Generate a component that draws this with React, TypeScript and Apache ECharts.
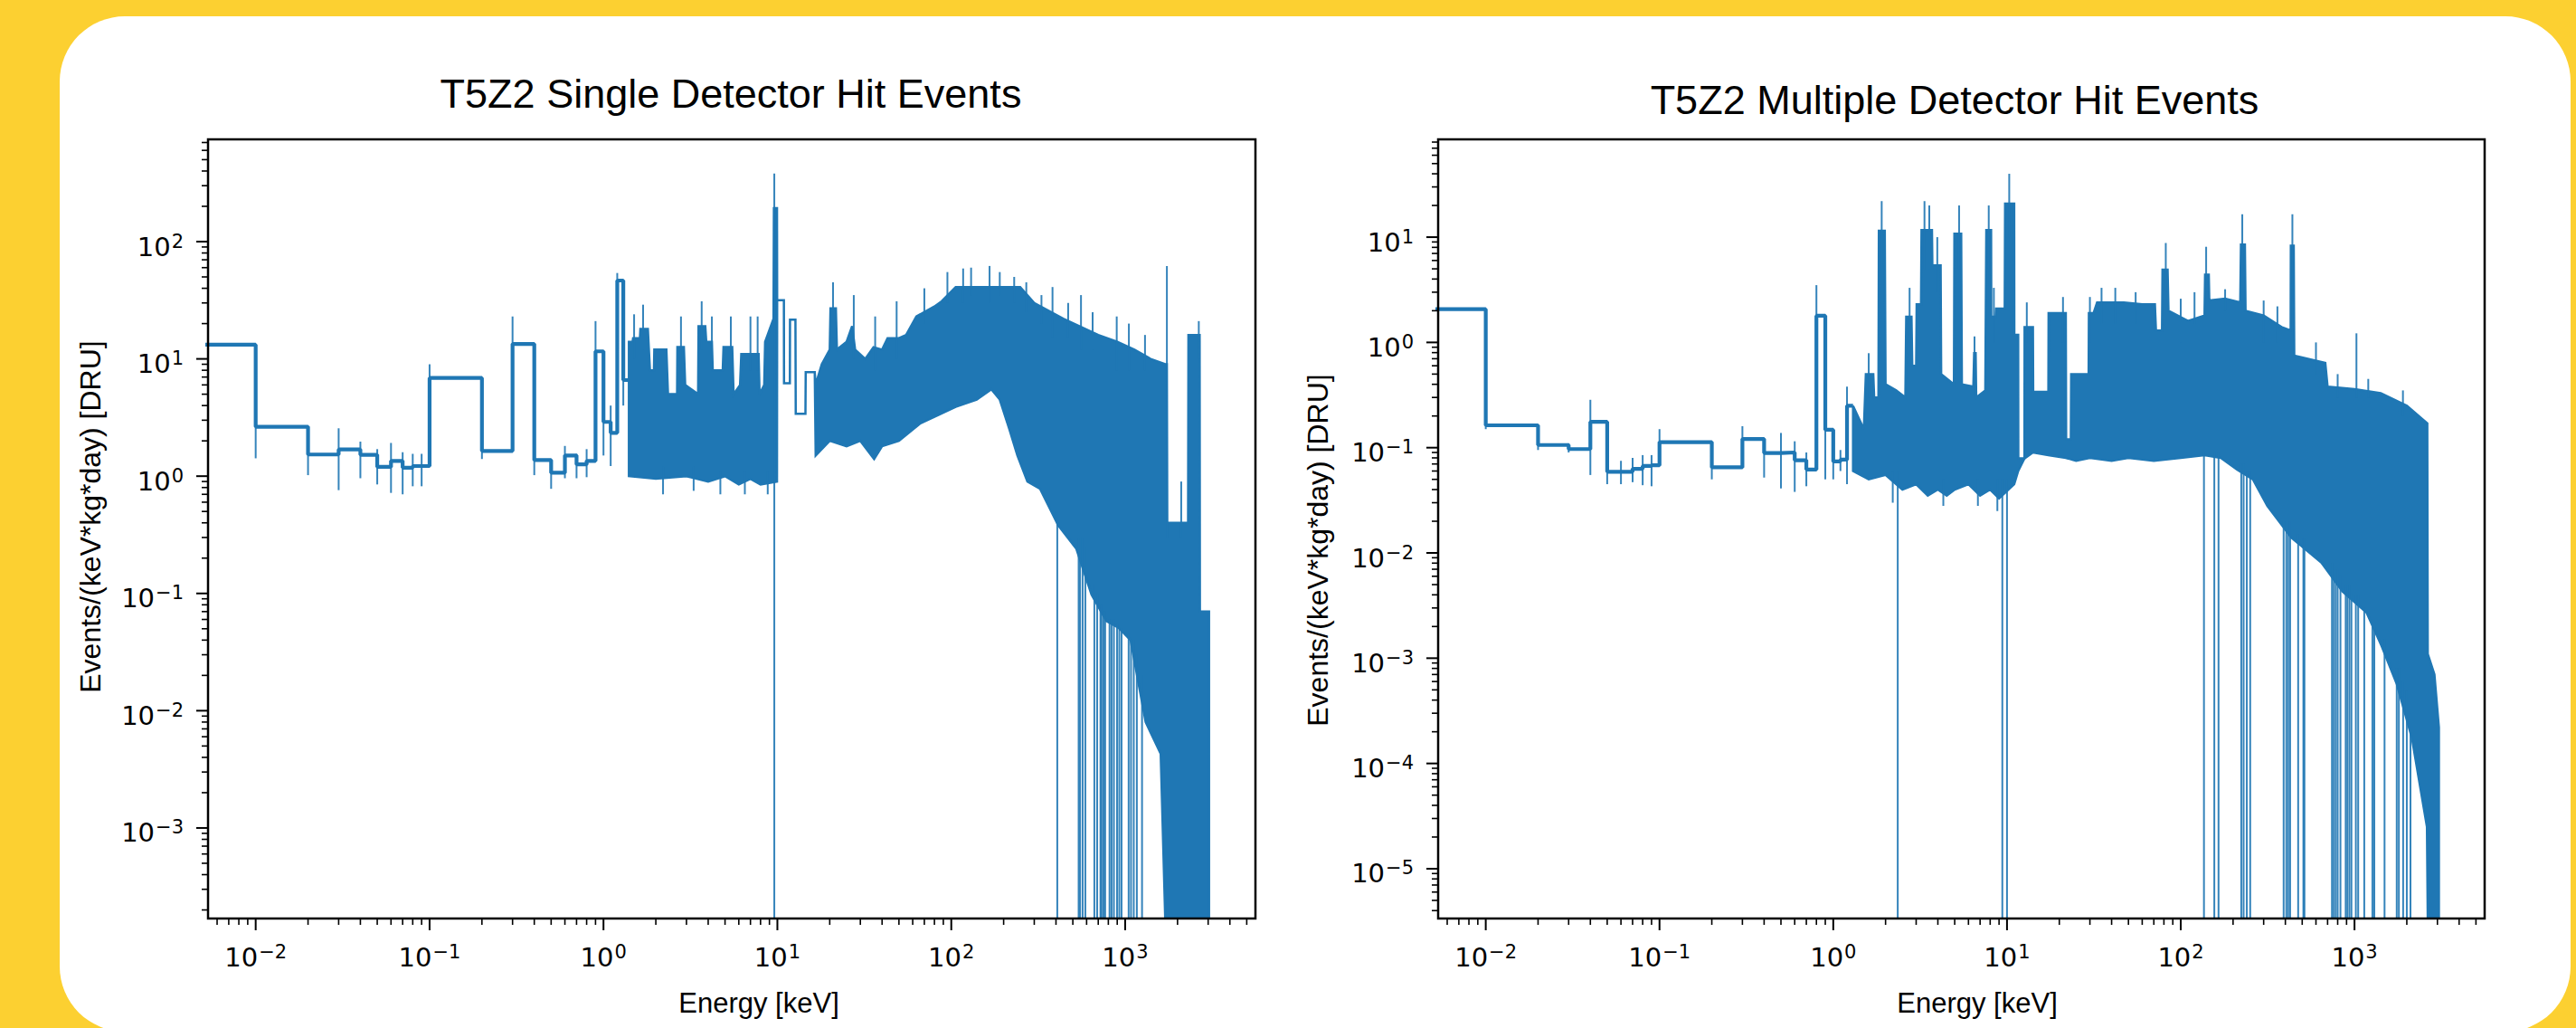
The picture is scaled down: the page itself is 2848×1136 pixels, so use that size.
import React, { useEffect, useRef } from 'react';
import * as echarts from 'echarts';

const BLUE = '#1f77b4';
const BOTTOM = 1e-9; // "falls to zero" (drawn down to the axis floor)

// axis ranges
const X_MIN = Math.pow(10, -2.274);
const X_MAX = Math.pow(10, 3.749);
const Y1_MIN = Math.pow(10, -3.772);
const Y1_MAX = Math.pow(10, 2.872);
const Y2_MIN = Math.pow(10, -5.473);
const Y2_MAX = Math.pow(10, 1.929);

// tick values
const xDecades = [1e-3, 1e-2, 1e-1, 1, 10, 100, 1000];
const y1Decades = [1e-4, 1e-3, 1e-2, 1e-1, 1, 10, 100];
const y2Decades = [1e-6, 1e-5, 1e-4, 1e-3, 1e-2, 1e-1, 1, 10];
const minorMultipliers = [2, 3, 4, 5, 6, 7, 8, 9];

// ---------- Single detector hit events ----------
const singleStepEdges = [0.001, 0.01, 0.02, 0.03, 0.04, 0.05, 0.06, 0.07, 0.08, 0.09, 0.1, 0.2, 0.3, 0.4, 0.5, 0.6, 0.7, 0.8, 0.9, 1.0, 1.1, 1.2, 1.3, 1.4];
const singleStepValues = [13.2, 2.64, 1.53, 1.69, 1.52, 1.2, 1.35, 1.18, 1.22, 1.22, 6.88, 1.64, 13.4, 1.37, 1.07, 1.5, 1.26, 1.35, 11.6, 2.9, 2.34, 46.6, 6.6];
const singleErrors = [
  [0.01, 1.42, 3.9], [0.02, 1.02, 2.1], [0.03, 0.76, 2.56], [0.04, 0.96, 1.97], [0.05, 0.85, 1.7],
  [0.06, 0.72, 1.92], [0.07, 0.7, 1.6], [0.08, 0.82, 1.55], [0.09, 0.82, 1.55], [0.1, 4.5, 9],
  [0.2, 1.4, 1.9], [0.3, 8, 23], [0.4, 1.02, 1.8], [0.5, 0.78, 1.4], [0.6, 0.96, 1.81],
  [0.7, 0.96, 1.55], [0.8, 0.98, 1.7], [0.9, 6, 21], [1.0, 1.5, 3.8], [1.1, 1.22, 4.0],
  [1.2, 38, 54], [1.3, 4, 9],
];
const singleBandUpper = [
  [1.4, 14], [1.47, 14], [1.48, 15], [1.62, 15], [1.63, 18], [1.8, 18], [1.85, 8], [1.95, 8], [1.96, 12], [2.3, 12],
  [2.35, 5], [2.65, 5], [2.66, 12.6], [2.9, 12.6], [2.95, 6], [3.5, 5], [3.52, 19], [3.85, 19], [3.9, 14], [4.2, 14],
  [4.25, 8], [4.85, 8], [4.9, 12.6], [5.5, 12.6], [5.6, 5], [6.1, 6], [6.2, 11], [7.8, 11], [7.9, 5], [8.4, 6],
  [8.5, 14], [9.5, 22], [9.55, 193], [9.95, 193], [9.97, 31.7], [10.9, 31.7], [10.92, 6.2], [11.8, 6.2], [11.82, 21.6], [12.7, 21.6],
  [12.75, 3.4], [14.5, 3.4], [14.55, 7.7], [16.4, 7.7], [16.6, 6], [18, 9], [20, 12], [20.2, 27], [21.7, 27], [22, 12],
  [25, 14], [26.9, 19], [28, 12], [32, 10], [35.7, 12.6], [40, 12], [43, 15], [49.7, 15], [55, 16], [63, 23],
  [80, 28], [88, 31], [106, 41], [150, 41], [200, 41], [249, 41], [300, 30], [440, 22], [700, 16], [900, 14],
  [1130, 12], [1400, 10], [1700, 9], [1735, 9], [1745, 0.4], [2300, 0.4], [2310, 16], [2680, 16], [2690, 0.07], [3035, 0.07],
];
const singleBandLower = [
  [1.4, 1.0], [2, 0.95], [3, 1.0], [4, 0.9], [5, 1.0], [6, 0.85], [7, 0.95], [8, 0.85], [9.95, 0.9], [9.97, 31.7],
  [10.9, 31.7], [10.92, 6.2], [11.8, 6.2], [11.82, 21.6], [12.7, 21.6], [12.75, 3.4], [14.5, 3.4], [14.55, 7.7], [16.4, 7.7], [16.6, 1.5],
  [20, 2.0], [25, 1.8], [30, 2.0], [36, 1.4], [40, 1.8], [50, 2.0], [58, 2.4], [66, 2.8], [80, 3.2], [106, 3.9],
  [140, 4.5], [170, 5.5], [190, 4.5], [216, 2.5], [240, 1.5], [274, 0.9], [324, 0.78], [412, 0.38], [524, 0.24], [640, 0.098],
  [780, 0.058], [915, 0.051], [1074, 0.04], [1311, 0.008], [1600, 0.0043], [1700, BOTTOM], [3035, BOTTOM],
];
const singleSpikes = [
  [1.5, 10, 24], [1.69, 12, 29], [2.79, 8, 23], [3.67, 12, 31], [4.2, 8, 23], [5.4, 8, 23], [7.0, 8, 23], [7.7, 8, 23],
  [9.6, BOTTOM, 381], [20.9, 15, 45], [27.5, 10, 35], [36.5, 8, 23], [48.5, 10, 31], [117, 30, 59], [166, 30, 62],
  [382, 15, 41], [557, 12, 35], [894, 8, 23], [1737, 0.3, 62], [2100, 0.3, 0.9], [2650, 10, 21],
  [70, 20, 40], [95, 30, 55], [130, 35, 60], [190, 35, 55], [230, 30, 50], [270, 25, 45], [330, 20, 35],
  [470, 15, 30], [650, 12, 25], [1050, 8, 20], [1300, 8, 16],
  [2.2, 0.7, 1.2], [3.3, 0.75, 1.2], [4.7, 0.7, 1.1], [6.5, 0.7, 1.1], [8.8, 0.7, 1.1],
  [407, BOTTOM, 0.5], [540, BOTTOM, 0.3], [550, BOTTOM, 0.3], [569, BOTTOM, 0.3], [590, BOTTOM, 0.25], [665, BOTTOM, 0.12],
  [690, BOTTOM, 0.1], [721, BOTTOM, 0.08], [731, BOTTOM, 0.08], [750, BOTTOM, 0.07], [767, BOTTOM, 0.07], [813, BOTTOM, 0.06],
  [835, BOTTOM, 0.06], [861, BOTTOM, 0.06], [898, BOTTOM, 0.055], [925, BOTTOM, 0.05], [953, BOTTOM, 0.05], [1047, BOTTOM, 0.045],
  [1080, BOTTOM, 0.04], [1120, BOTTOM, 0.04], [1167, BOTTOM, 0.03], [1250, BOTTOM, 0.02],
];

// ---------- Multiple detector hit events ----------
const multiStepEdges = [0.001, 0.01, 0.02, 0.03, 0.04, 0.05, 0.06, 0.07, 0.08, 0.09, 0.1, 0.2, 0.3, 0.4, 0.5, 0.6, 0.7, 0.8, 0.9, 1.0, 1.1, 1.2, 1.3];
const multiStepValues = [2.07, 0.163, 0.106, 0.097, 0.176, 0.059, 0.059, 0.063, 0.067, 0.068, 0.113, 0.065, 0.121, 0.089, 0.09, 0.076, 0.062, 1.79, 0.148, 0.074, 0.077, 0.25];
const multiErrors = [
  [0.01, 0.15, 0.18], [0.02, 0.095, 0.115], [0.03, 0.09, 0.11], [0.04, 0.055, 0.285], [0.05, 0.045, 0.075],
  [0.06, 0.045, 0.075], [0.07, 0.047, 0.08], [0.08, 0.044, 0.085], [0.09, 0.043, 0.085], [0.1, 0.1, 0.15],
  [0.2, 0.05, 0.075], [0.3, 0.09, 0.16], [0.4, 0.052, 0.1], [0.5, 0.041, 0.138], [0.6, 0.038, 0.115],
  [0.7, 0.043, 0.09], [0.8, 0.9, 3.5], [0.9, 0.05, 0.15], [1.0, 0.05, 0.1], [1.1, 0.06, 0.095], [1.2, 0.045, 0.38],
];
const multiBandUpper = [
  [1.3, 0.25], [1.5, 0.15], [1.54, 0.5], [1.7, 0.5], [1.72, 0.3], [1.82, 0.3], [1.83, 11.5], [1.98, 11.5], [2.0, 0.4], [2.3, 0.35],
  [2.6, 0.3], [2.63, 1.75], [2.82, 1.75], [2.85, 0.6], [3.0, 0.6], [3.02, 2.3], [3.2, 2.3], [3.22, 11.7], [3.7, 11.7], [3.72, 5.4],
  [4.15, 5.4], [4.18, 0.5], [4.95, 0.4], [4.98, 10.8], [5.45, 10.8], [5.5, 0.4], [6.4, 0.38], [6.47, 0.79], [6.6, 0.79], [6.65, 0.3],
  [7.5, 0.35], [7.6, 11.7], [8.1, 11.7], [8.12, 1.75], [8.6, 1.75], [8.65, 2.1], [9.7, 2.1], [9.75, 20.8], [11.0, 20.8], [11.02, 1.18],
  [11.6, 1.18], [11.62, 0.079], [12.6, 0.079], [12.62, 1.4], [14.1, 1.4], [14.15, 0.34], [17.3, 0.34], [17.35, 1.9], [21.8, 1.9], [21.9, 0.12],
  [23.3, 0.12], [23.4, 0.5], [29.5, 0.5], [29.6, 1.9], [31.5, 1.9], [33, 2.4], [47, 2.4], [60, 2.3], [71, 2.3], [72, 1.3],
  [78, 1.3], [78.5, 4.9], [84, 4.9], [85, 2.0], [110, 1.6], [137, 1.8], [138, 4.4], [145, 4.4], [146, 2.5], [180, 2.6],
  [220, 2.4], [222, 8.5], [234, 8.5], [236, 2.0], [300, 1.8], [380, 1.4], [429, 1.3], [430, 8.3], [447, 8.3], [450, 0.75],
  [679, 0.64], [700, 0.38], [1000, 0.36], [1415, 0.33], [2000, 0.25], [2624, 0.17], [2640, 0.0011], [2884, 0.0007], [3060, 0.00022],
];
const multiBandLower = [
  [1.3, 0.06], [1.6, 0.05], [2.0, 0.055], [2.5, 0.04], [3.0, 0.045], [3.5, 0.035], [4.0, 0.04], [4.5, 0.035], [5.0, 0.04], [6.0, 0.045],
  [7.0, 0.035], [8.0, 0.04], [9.0, 0.033], [11.0, 0.045], [11.6, 0.06], [12.6, 0.079], [14.1, 0.09], [17.3, 0.085], [21.8, 0.08], [25, 0.075],
  [30, 0.08], [40, 0.075], [50, 0.08], [70, 0.075], [100, 0.08], [137, 0.085], [170, 0.08], [211, 0.062], [260, 0.05], [315, 0.028],
  [433, 0.014], [645, 0.0081], [853, 0.0043], [1175, 0.0027], [1433, 0.0013], [1750, 0.00057], [2138, 0.000175], [2612, 0.000025], [2640, BOTTOM], [3060, BOTTOM],
];
const multiSpikes = [
  [1.6, 0.3, 0.79], [1.9, 5, 22], [2.75, 1, 3.3], [3.35, 5, 22], [3.57, 5, 20], [3.97, 3, 10], [5.3, 5, 20], [6.5, 0.5, 1.14],
  [7.85, 5, 20], [8.4, 1, 3.3], [10.3, 10, 40], [13, 1, 2.4], [21, 1, 2.7], [30, 1, 2.7], [42, 1.5, 3.3], [82, 3, 8.8],
  [140, 3, 8.1], [226, 5, 16.5], [439, 5, 16.5], [1026, 0.3, 1.22],
  [35, 1.5, 3.3], [55, 1.5, 3.0], [100, 1, 2.6], [120, 1.5, 3], [180, 2, 3.2], [300, 1, 2.5], [360, 1, 2.2],
  [600, 0.5, 1.0], [800, 0.3, 0.5], [1200, 0.3, 0.45], [1900, 0.2, 0.35],
  [2.2, 0.03, 0.06], [4.3, 0.028, 0.05], [6.8, 0.028, 0.05], [8.8, 0.025, 0.05],
  [2.35, BOTTOM, 0.06], [9.4, BOTTOM, 0.05], [10.0, BOTTOM, 0.05], [136, BOTTOM, 0.09], [156, BOTTOM, 0.09], [165, BOTTOM, 0.09],
  [223, BOTTOM, 0.07], [230, BOTTOM, 0.07], [240, BOTTOM, 0.06], [251, BOTTOM, 0.06], [391, BOTTOM, 0.02], [405, BOTTOM, 0.02],
  [415, BOTTOM, 0.02], [426, BOTTOM, 0.02], [474, BOTTOM, 0.015], [508, BOTTOM, 0.014], [515, BOTTOM, 0.014], [742, BOTTOM, 0.008],
  [760, BOTTOM, 0.008], [780, BOTTOM, 0.007], [800, BOTTOM, 0.007], [830, BOTTOM, 0.006], [890, BOTTOM, 0.005], [910, BOTTOM, 0.005],
  [935, BOTTOM, 0.005], [960, BOTTOM, 0.004], [1018, BOTTOM, 0.004], [1050, BOTTOM, 0.004], [1138, BOTTOM, 0.003], [1268, BOTTOM, 0.002],
  [1300, BOTTOM, 0.002], [1489, BOTTOM, 0.0015], [1750, BOTTOM, 0.0008], [1800, BOTTOM, 0.0008], [1905, BOTTOM, 0.0006],
  [2000, BOTTOM, 0.0005], [2100, BOTTOM, 0.0003],
];

// ---------- helpers ----------
const RICH = {
  b: { fontFamily: 'DejaVu Sans', fontSize: 29, lineHeight: 31, color: '#000', verticalAlign: 'bottom' },
  s: { fontFamily: 'DejaVu Sans', fontSize: 21, lineHeight: 21, color: '#000', verticalAlign: 'top', padding: [0, 0, 17, 1] },
};

function fmtPow(v: number) {
  const l = Math.log10(v);
  const e = Math.round(l);
  if (Math.abs(l - e) > 1e-4) return '';
  return '{b|10}{s|' + (e < 0 ? '\u2212' + -e : String(e)) + '}';
}

function ticksIn(decades: number[], lo: number, hi: number) {
  const major: number[] = [];
  const minor: number[] = [];
  decades.forEach((d) => {
    if (d >= lo && d <= hi) major.push(d);
    minorMultipliers.forEach((m) => {
      const v = d * m;
      if (v >= lo && v <= hi) minor.push(v);
    });
  });
  return { major, minor };
}

function stepData(edges: number[], values: number[]) {
  return edges.map((e, i) => [e, values[Math.min(i, values.length - 1)]]);
}

function clampY(y: number, cs: any) {
  const b = cs.y + cs.height;
  return Math.min(Math.max(y, cs.y - 2), b + 2);
}

function bandSeries(upper: number[][], lower: number[][], idx: number) {
  return {
    type: 'custom', xAxisIndex: idx, yAxisIndex: idx, clip: true, silent: true, z: 2,
    data: [[1, 1]],
    renderItem: (params: any, api: any) => {
      const cs = params.coordSys;
      const pts = upper.concat(lower.slice().reverse()).map(([e, v]) => {
        const p = api.coord([e, v]);
        return [p[0], clampY(p[1], cs)];
      });
      return { type: 'polygon', shape: { points: pts }, style: { fill: BLUE, stroke: BLUE, lineWidth: 2.5, lineJoin: 'miter' } };
    },
  };
}

function segSeries(data: number[][], idx: number, width: number) {
  return {
    type: 'custom', xAxisIndex: idx, yAxisIndex: idx, clip: true, silent: true, z: 3,
    data, encode: { x: 0, y: [1, 2] },
    renderItem: (params: any, api: any) => {
      const cs = params.coordSys;
      const p1 = api.coord([api.value(0), api.value(1)]);
      const p2 = api.coord([api.value(0), api.value(2)]);
      return {
        type: 'line',
        shape: { x1: p1[0], y1: clampY(p1[1], cs), x2: p2[0], y2: clampY(p2[1], cs) },
        style: { stroke: BLUE, lineWidth: width, opacity: 0.9 },
      };
    },
  };
}

function xTickSeries(idx: number, yMin: number) {
  const t = ticksIn(xDecades, X_MIN, X_MAX);
  const data = t.major.map((v) => [v, yMin, 13]).concat(t.minor.map((v) => [v, yMin, 7]));
  return {
    type: 'custom', xAxisIndex: idx, yAxisIndex: idx, clip: false, silent: true, z: 5,
    data,
    renderItem: (params: any, api: any) => {
      const p = api.coord([api.value(0), api.value(1)]);
      const len = api.value(2);
      return { type: 'line', shape: { x1: p[0], y1: p[1], x2: p[0], y2: p[1] + len }, style: { stroke: '#000', lineWidth: len > 10 ? 2 : 1.6 } };
    },
  };
}

function yTickSeries(idx: number, decades: number[], yMin: number, yMax: number) {
  const t = ticksIn(decades, yMin, yMax);
  const data = t.major.map((v) => [X_MIN, v, 13]).concat(t.minor.map((v) => [X_MIN, v, 7]));
  return {
    type: 'custom', xAxisIndex: idx, yAxisIndex: idx, clip: false, silent: true, z: 5,
    data,
    renderItem: (params: any, api: any) => {
      const p = api.coord([api.value(0), api.value(1)]);
      const len = api.value(2);
      return { type: 'line', shape: { x1: p[0] - len, y1: p[1], x2: p[0], y2: p[1] }, style: { stroke: '#000', lineWidth: len > 10 ? 2 : 1.6 } };
    },
  };
}

function xAxisCfg(idx: number) {
  return {
    type: 'log', logBase: 10, gridIndex: idx, min: X_MIN, max: X_MAX,
    axisLine: { show: false }, axisTick: { show: false }, splitLine: { show: false }, minorTick: { show: false },
    axisLabel: { interval: 0, margin: 17, formatter: fmtPow, rich: RICH, padding: [9, 0, 0, 0], hideOverlap: false },
  };
}

function yAxisCfg(idx: number, min: number, max: number) {
  return {
    type: 'log', logBase: 10, gridIndex: idx, min, max,
    axisLine: { show: false }, axisTick: { show: false }, splitLine: { show: false }, minorTick: { show: false },
    axisLabel: { interval: 0, margin: 27, formatter: fmtPow, rich: RICH, padding: [9, 0, 0, 0], hideOverlap: false },
  };
}

const TITLE_FONT = 'Liberation Sans';

function buildOption() {
  return {
    animation: false,
    backgroundColor: '#FCD031',
    graphic: {
      elements: [
        { type: 'rect', z: -10, silent: true, shape: { x: 66, y: 18, width: 2776, height: 1122, r: 72 }, style: { fill: '#ffffff' } },
        { type: 'text', z: 10, x: 839, y: 1108, style: { text: 'Energy [keV]', fontFamily: TITLE_FONT, fontSize: 31, fill: '#000', align: 'center', verticalAlign: 'middle' } },
        { type: 'text', z: 10, x: 2186, y: 1108, style: { text: 'Energy [keV]', fontFamily: TITLE_FONT, fontSize: 31, fill: '#000', align: 'center', verticalAlign: 'middle' } },
        { type: 'text', z: 10, x: 100, y: 571, rotation: Math.PI / 2, style: { text: 'Events/(keV*kg*day) [DRU]', fontFamily: TITLE_FONT, fontSize: 32, fill: '#000', align: 'center', verticalAlign: 'middle' } },
        { type: 'text', z: 10, x: 1457, y: 608, rotation: Math.PI / 2, style: { text: 'Events/(keV*kg*day) [DRU]', fontFamily: TITLE_FONT, fontSize: 32, fill: '#000', align: 'center', verticalAlign: 'middle' } },
      ],
    },
    title: [
      { text: 'T5Z2 Single Detector Hit Events', left: 808, top: 103, padding: 0, textAlign: 'center', textVerticalAlign: 'middle', textStyle: { fontFamily: TITLE_FONT, fontSize: 45, fontWeight: 'normal', color: '#000' } },
      { text: 'T5Z2 Multiple Detector Hit Events', left: 2161, top: 110, padding: 0, textAlign: 'center', textVerticalAlign: 'middle', textStyle: { fontFamily: TITLE_FONT, fontSize: 45, fontWeight: 'normal', color: '#000' } },
    ],
    grid: [
      { left: 230, top: 154, width: 1158, height: 861, show: true, borderColor: '#000', borderWidth: 2.5, backgroundColor: 'rgba(0,0,0,0)', z: 10, containLabel: false, outerBoundsMode: 'none' },
      { left: 1590, top: 154, width: 1157, height: 861, show: true, borderColor: '#000', borderWidth: 2.5, backgroundColor: 'rgba(0,0,0,0)', z: 10, containLabel: false, outerBoundsMode: 'none' },
    ],
    xAxis: [xAxisCfg(0), xAxisCfg(1)],
    yAxis: [yAxisCfg(0, Y1_MIN, Y1_MAX), yAxisCfg(1, Y2_MIN, Y2_MAX)],
    series: [
      bandSeries(singleBandUpper, singleBandLower, 0),
      bandSeries(multiBandUpper, multiBandLower, 1),
      {
        type: 'line', xAxisIndex: 0, yAxisIndex: 0, step: 'end', data: stepData(singleStepEdges, singleStepValues),
        showSymbol: false, symbol: 'none', clip: true, silent: true, z: 4, lineStyle: { color: BLUE, width: 4.2 },
      },
      {
        type: 'line', xAxisIndex: 1, yAxisIndex: 1, step: 'end', data: stepData(multiStepEdges, multiStepValues),
        showSymbol: false, symbol: 'none', clip: true, silent: true, z: 4, lineStyle: { color: BLUE, width: 4.2 },
      },
      segSeries(singleErrors, 0, 2),
      segSeries(multiErrors, 1, 2),
      segSeries(singleSpikes, 0, 2),
      segSeries(multiSpikes, 1, 2),
      xTickSeries(0, Y1_MIN),
      xTickSeries(1, Y2_MIN),
      yTickSeries(0, y1Decades, Y1_MIN, Y1_MAX),
      yTickSeries(1, y2Decades, Y2_MIN, Y2_MAX),
    ],
  };
}

export default function App() {
  const ref = useRef<HTMLDivElement>(null);
  useEffect(() => {
    const chart = echarts.init(ref.current as HTMLDivElement, null, { renderer: 'svg', width: 2848, height: 1136 });
    chart.setOption(buildOption() as any);
    return () => chart.dispose();
  }, []);
  return (
    <div style={{ position: 'fixed', left: 0, top: 0, width: 2848, height: 1136, overflow: 'hidden' }}>
      <div ref={ref} style={{ width: 2848, height: 1136 }} />
    </div>
  );
}
